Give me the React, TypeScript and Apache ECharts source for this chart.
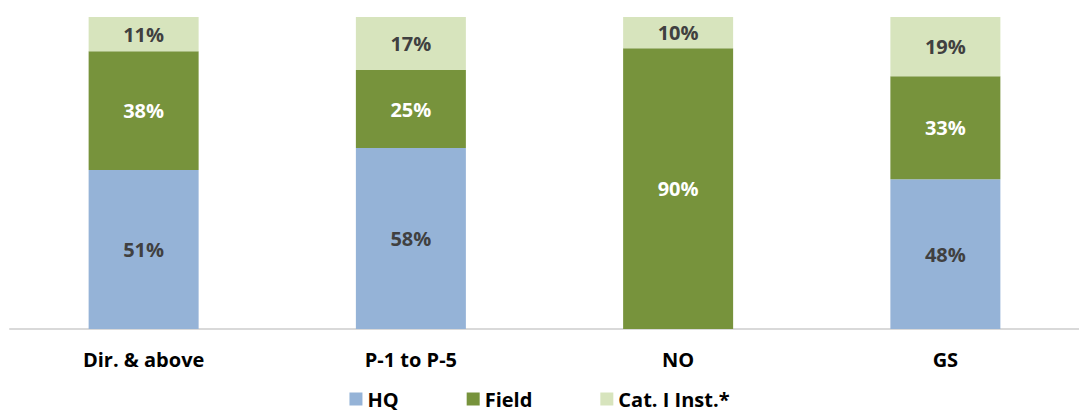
import React, { useEffect, useRef } from "react";
import * as echarts from "echarts";

const categories = ["Dir. & above", "P-1 to P-5", "NO", "GS"];
const hqValues = [51, 58, 0, 48];
const fieldValues = [38, 25, 90, 33];
const catValues = [11, 17, 10, 19];

const FONT = "'Open Sans', sans-serif";

export default function App() {
  const ref = useRef<HTMLDivElement>(null);
  useEffect(() => {
    document.body.style.margin = "0";
    const chart = echarts.init(ref.current!, null, { renderer: "svg" });
    const label = (color: string) => ({
      show: true,
      position: "inside" as const,
      formatter: (p: any) => (p.value > 0 ? p.value + "%" : ""),
      color,
      fontSize: 20,
      fontWeight: "bold" as const,
      fontFamily: FONT,
    });
    chart.setOption({
      animation: false,
      grid: { left: 10, width: 1080, top: 17, bottom: 83 },
      legend: {
        top: 388,
        left: "center",
        icon: "rect",
        itemWidth: 13,
        itemHeight: 13,
        itemGap: 68,
        padding: 0,
        itemStyle: { borderWidth: 0 },
        textStyle: { fontSize: 20, lineHeight: 22, fontWeight: "bold", color: "#000", fontFamily: FONT },
        data: ["HQ", "Field", "Cat. I Inst.*"],
      },
      xAxis: {
        type: "category",
        data: categories,
        axisLine: { lineStyle: { color: "#d9d9d9", width: 2 } },
        axisTick: { show: false },
        axisLabel: { fontSize: 20, fontWeight: "bold", color: "#000", margin: 20, fontFamily: FONT },
      },
      yAxis: { type: "value", min: 0, max: 100, show: false, splitLine: { show: false } },
      series: [
        { name: "HQ", type: "bar", stack: "a", barWidth: 110, data: hqValues, itemStyle: { color: "#95b3d7" }, label: label("#404040") },
        { name: "Field", type: "bar", stack: "a", barWidth: 110, data: fieldValues, itemStyle: { color: "#77933c" }, label: label("#ffffff") },
        { name: "Cat. I Inst.*", type: "bar", stack: "a", barWidth: 110, data: catValues, itemStyle: { color: "#d7e4bd" }, label: label("#404040") },
      ],
    });
    return () => chart.dispose();
  }, []);
  return <div ref={ref} style={{ width: 1079, height: 412 }} />;
}
